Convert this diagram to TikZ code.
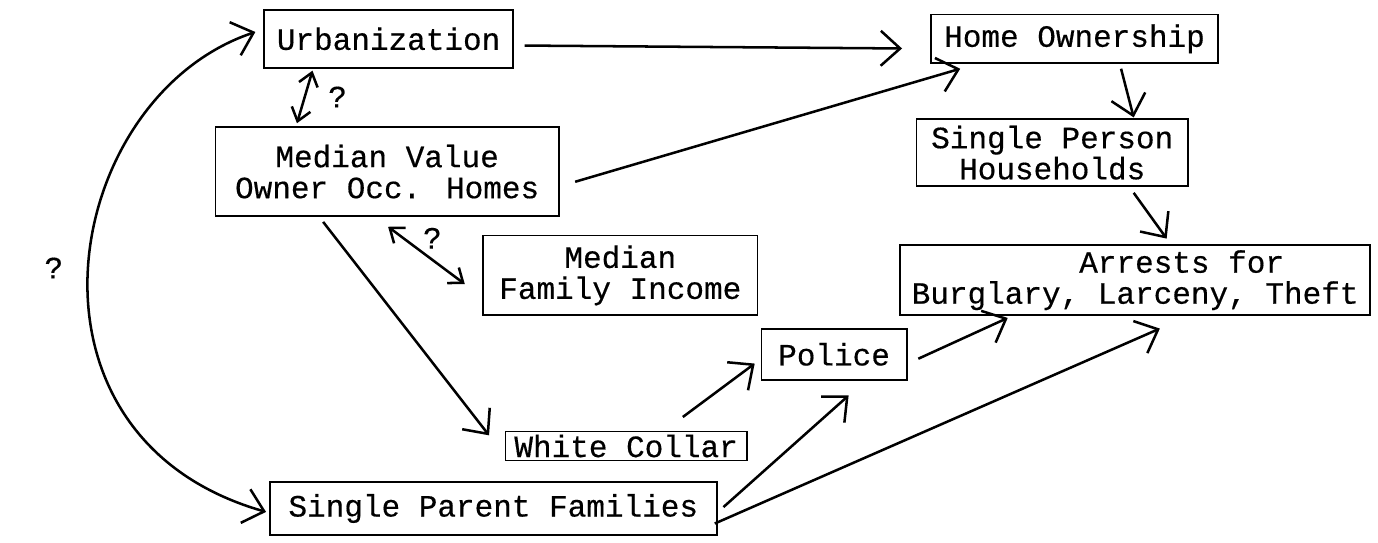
\documentclass[tikz,border=0pt]{standalone}
\usepackage{fontspec}
\newfontfamily\typer[FakeBold=0.4]{Liberation Mono}
\usetikzlibrary{positioning,arrows.meta}

\begin{document}
\begin{tikzpicture}[
  x=0.5pt, y=-0.5pt,
  >={Straight Barb[length=10pt, width=18pt]},
  box/.style={draw, line width=0.9pt, inner sep=0pt, align=center,
              font=\typer\fontsize{16}{16}\selectfont},
  qm/.style={inner sep=0pt, font=\typer\fontsize{16}{16}\selectfont},
  arr/.style={->, line width=1.3pt},
  dbl/.style={{Straight Barb[length=6.5pt, width=10pt]}-{Straight Barb[length=6.5pt, width=10pt]}, line width=1.3pt}
]
\path[fill=white] (0,0) rectangle (1378,560);
% variables
\node[box, minimum width=128.5pt, minimum height=30pt] (urb) at (357.5,40) {Urbanization};
\node[box, minimum width=177pt, minimum height=46pt] (mvo) at (356,177) {Median Value\\Owner Occ. Homes};
\node[box, minimum width=148pt, minimum height=25pt] (home) at (1065,40) {Home Ownership};
\node[box, minimum width=140pt, minimum height=34.5pt] (spers) at (1042,157.5) {Single Person\\Households};
\node[box, minimum width=141.5pt, minimum height=41pt] (mfi) at (596.5,284) {Median\\Family Income};
\node[box, align=left, minimum width=242.5pt, minimum height=36pt] (arrests) at (1127.5,289) {\phantom{Burglary,}Arrests for\\Burglary, Larceny, Theft};
\node[box, minimum width=75pt, minimum height=26.5pt] (pol) at (817,365.5) {Police};
\node[box, minimum width=124.5pt, minimum height=15pt] (wc) at (602.5,460) {White Collar};
\node[box, minimum width=230.5pt, minimum height=27.5pt] (spf) at (465.5,524.5) {Single Parent Families};
% paths
\draw[arr] ([xshift=5.5pt, yshift=-3.5pt]urb.east) -- ([xshift=-14.5pt, yshift=-5pt]home.west);
\draw[arr] ([xshift=8pt, yshift=-5.25pt]mvo.east) -- ([xshift=15.5pt, yshift=-2.5pt]home.south west);
\draw[dbl] ([xshift=-39.25pt, yshift=-1pt]urb.south) -- node[qm, right=11.5pt] (q1) {?} ([xshift=-46.5pt, yshift=1.5pt]mvo.north);
\draw[dbl] ([xshift=0.5pt, yshift=-5pt]mvo.south) -- node[qm, pos=0.2, right=9.5pt] (q2) {?} ([xshift=-9pt, yshift=-4.5pt]mfi.west);
\draw[arr] ([xshift=-33pt, yshift=-2.5pt]mvo.south) -- ([xshift=-8pt, yshift=5.5pt]wc.west);
\draw[arr] ([xshift=29.25pt, yshift=7pt]wc.north) -- ([xshift=-3pt, yshift=-4.75pt]pol.west);
\draw[arr] ([xshift=5.5pt, yshift=-2.25pt]pol.east) -- ([xshift=56pt, yshift=-1pt]arrests.south west);
\draw[arr] ([xshift=3pt, yshift=0.75pt]spf.east) -- ([xshift=7.5pt, yshift=-7.5pt]pol.south);
\draw[arr] ([xshift=-1.5pt, yshift=-7.75pt]spf.east) -- ([xshift=12.75pt, yshift=-6.5pt]arrests.south);
\draw[arr] ([xshift=24pt, yshift=-2.5pt]home.south) -- ([xshift=42pt, yshift=0.5pt]spers.north);
\draw[arr] ([xshift=42pt, yshift=-3pt]spers.south) -- ([xshift=16.25pt, yshift=3pt]arrests.north);
\draw[<->, line width=1.3pt] ([xshift=-1.5pt, yshift=-1.75pt]spf.west) .. controls (-42,450) and (20,100) .. ([xshift=-4pt, yshift=3.5pt]urb.west)
  node[qm, pos=0.5, left=12.5pt] (q3) {?};
\end{tikzpicture}
\end{document}
